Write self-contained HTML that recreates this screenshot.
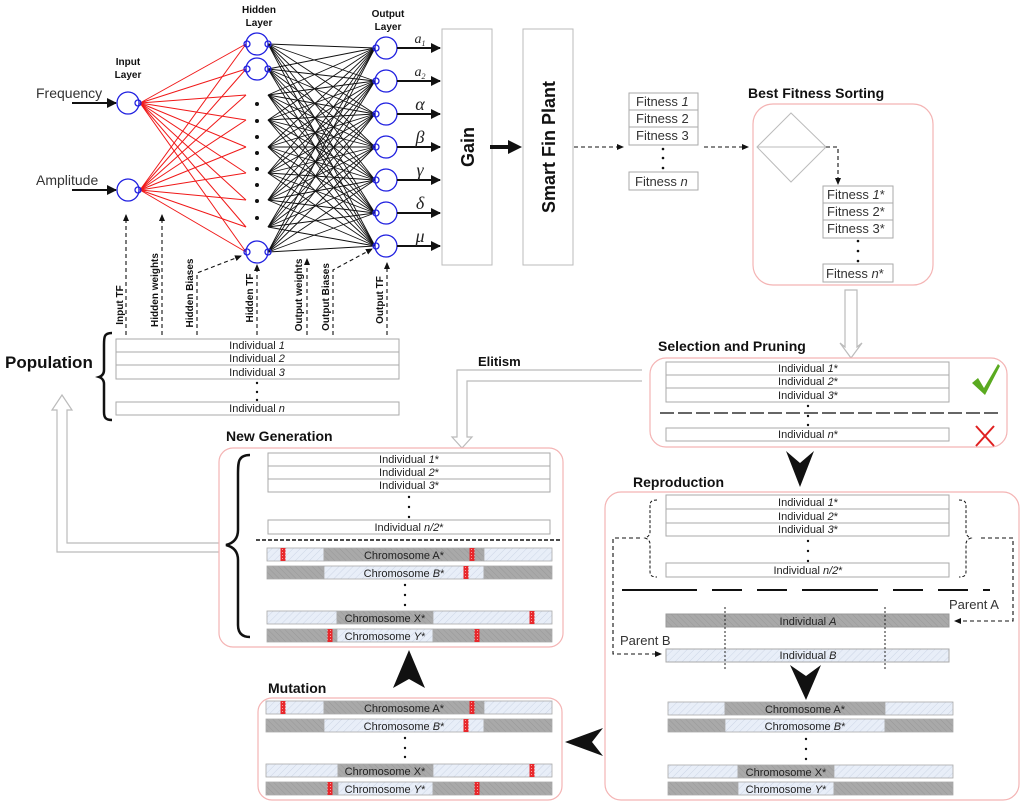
<!DOCTYPE html>
<html><head><meta charset="utf-8"><style>
html,body{margin:0;padding:0;background:#fff;}
svg{display:block;font-family:"Liberation Sans",sans-serif;}
.t{font-size:11px;text-anchor:middle;fill:#222}
.b{font-weight:bold;fill:#111}
.row{fill:#fff;stroke:#aaa;stroke-width:1}
.pk{fill:#fff;stroke:#f4b4b4;stroke-width:1.2}
.dash{stroke:#111;stroke-width:1.1;stroke-dasharray:4,3;fill:none}
.hol{fill:#fff;stroke:#bbb;stroke-width:1.2}
</style></head><body>
<svg id="s" width="1024" height="807" viewBox="0 0 1024 807" xmlns="http://www.w3.org/2000/svg">
<defs>
<pattern id="lh" width="5" height="5" patternUnits="userSpaceOnUse" patternTransform="rotate(45)"><rect width="5" height="5" fill="#e8eef8"/><line x1="0" y1="0" x2="0" y2="5" stroke="#cdd6e6" stroke-width="1"/></pattern>
<pattern id="dh" width="4" height="4" patternUnits="userSpaceOnUse" patternTransform="rotate(-45)"><rect width="4" height="4" fill="#a9a9a9"/><line x1="0" y1="0" x2="0" y2="4" stroke="#989898" stroke-width="1"/></pattern>
<pattern id="rh" width="3" height="3" patternUnits="userSpaceOnUse"><rect width="3" height="3" fill="#e8282c"/><rect width="1" height="1" fill="#f7a0a0"/></pattern>
<marker id="ah" markerWidth="8" markerHeight="8" refX="6" refY="3" orient="auto" markerUnits="userSpaceOnUse"><path d="M0,0 L7,3 L0,6 Z" fill="#111"/></marker>
<marker id="ab" markerWidth="12" markerHeight="10" refX="9" refY="5" orient="auto" markerUnits="userSpaceOnUse"><path d="M0,0 L10,5 L0,10 Z" fill="#111"/></marker>
</defs>

<g id="lines"></g>

<text x="128" y="65" class="t b" style="font-size:10px">Input</text>
<text x="128" y="78" class="t b" style="font-size:10px">Layer</text>
<text x="259" y="13" class="t b" style="font-size:10px">Hidden</text>
<text x="259" y="26" class="t b" style="font-size:10px">Layer</text>
<text x="388" y="17" class="t b" style="font-size:10px">Output</text>
<text x="388" y="30" class="t b" style="font-size:10px">Layer</text>
<text x="36" y="98" style="font-size:14px;fill:#333">Frequency</text>
<text x="36" y="185" style="font-size:14px;fill:#333">Amplitude</text>
<line x1="72" y1="103" x2="116" y2="103" stroke="#111" stroke-width="2" marker-end="url(#ab)"/>
<line x1="72" y1="190" x2="116" y2="190" stroke="#111" stroke-width="2" marker-end="url(#ab)"/>
<g fill="none" stroke="#2020e0" stroke-width="1.3">
<circle cx="128" cy="103" r="11"/><circle cx="128" cy="190" r="11"/>
<circle cx="138" cy="103" r="3"/><circle cx="138" cy="190" r="3"/>
<circle cx="257" cy="44" r="11"/><circle cx="257" cy="69" r="11"/><circle cx="257" cy="252" r="11"/>
<circle cx="247" cy="44" r="3"/><circle cx="247" cy="69" r="3"/><circle cx="247" cy="252" r="3"/>
<circle cx="268" cy="44" r="3"/><circle cx="268" cy="69" r="3"/><circle cx="268" cy="252" r="3"/>
<g id="outc"></g>
</g>
<g fill="#111"><circle cx="257" cy="104" r="2"/><circle cx="257" cy="121" r="2"/><circle cx="257" cy="137" r="2"/><circle cx="257" cy="153" r="2"/><circle cx="257" cy="169" r="2"/><circle cx="257" cy="185" r="2"/><circle cx="257" cy="201" r="2"/><circle cx="257" cy="218" r="2"/></g>
<g stroke="#111" stroke-width="2">
<line x1="397" y1="48" x2="440" y2="48" marker-end="url(#ab)"/>
<line x1="397" y1="81" x2="440" y2="81" marker-end="url(#ab)"/>
<line x1="397" y1="114" x2="440" y2="114" marker-end="url(#ab)"/>
<line x1="397" y1="147" x2="440" y2="147" marker-end="url(#ab)"/>
<line x1="397" y1="180" x2="440" y2="180" marker-end="url(#ab)"/>
<line x1="397" y1="213" x2="440" y2="213" marker-end="url(#ab)"/>
<line x1="397" y1="246" x2="440" y2="246" marker-end="url(#ab)"/>
</g>
<g style="font-family:'Liberation Serif',serif;font-style:italic;fill:#222" text-anchor="middle">
<text x="420" y="43" style="font-size:14px">a<tspan font-size="8" dy="3">1</tspan></text>
<text x="420" y="76" style="font-size:14px">a<tspan font-size="8" dy="3">2</tspan></text>
<text x="420" y="110" style="font-size:18px">α</text>
<text x="420" y="143" style="font-size:18px">β</text>
<text x="420" y="176" style="font-size:18px">γ</text>
<text x="420" y="209" style="font-size:18px">δ</text>
<text x="420" y="242" style="font-size:18px">μ</text>
</g>
<g class="dash">
<line x1="126" y1="335" x2="126" y2="215" marker-end="url(#ah)"/>
<line x1="162" y1="335" x2="162" y2="215" marker-end="url(#ah)"/>
<polyline points="197,335 197,273 241,256" marker-end="url(#ah)"/>
<line x1="257" y1="335" x2="257" y2="265" marker-end="url(#ah)"/>
<line x1="307" y1="335" x2="307" y2="259" marker-end="url(#ah)"/>
<polyline points="333,335 333,270 372,249" marker-end="url(#ah)"/>
<line x1="387" y1="335" x2="387" y2="263" marker-end="url(#ah)"/>
</g>
<g class="b" style="font-size:10px">
<text transform="translate(123,305) rotate(-90)" text-anchor="middle">Input TF</text>
<text transform="translate(158,290) rotate(-90)" text-anchor="middle">Hidden weights</text>
<text transform="translate(193,293) rotate(-90)" text-anchor="middle">Hidden Biases</text>
<text transform="translate(253,298) rotate(-90)" text-anchor="middle">Hidden TF</text>
<text transform="translate(302,295) rotate(-90)" text-anchor="middle">Output weights</text>
<text transform="translate(329,297) rotate(-90)" text-anchor="middle">Output Biases</text>
<text transform="translate(383,300) rotate(-90)" text-anchor="middle">Output TF</text>
</g>

<rect x="442" y="29" width="50" height="236" fill="#fff" stroke="#bbb"/>
<rect x="523" y="29" width="50" height="236" fill="#fff" stroke="#bbb"/>
<text transform="translate(474,147) rotate(-90)" class="t b" style="font-size:18px">Gain</text>
<text transform="translate(555,147) rotate(-90)" class="t b" style="font-size:18px">Smart Fin Plant</text>
<path d="M490,145 L508,145 L508,140 L522,147 L508,154 L508,149 L490,149 Z" fill="#111"/>
<line x1="574" y1="147" x2="623" y2="147" class="dash" marker-end="url(#ah)"/>
<line x1="704" y1="147" x2="748" y2="147" class="dash" marker-end="url(#ah)"/>
<g style="font-size:13px;fill:#333">
<rect x="629" y="93" width="69" height="17" class="row"/><rect x="629" y="110" width="69" height="17" class="row"/><rect x="629" y="127" width="69" height="18" class="row"/><rect x="629" y="172" width="69" height="18" class="row"/>
<text x="636" y="106">Fitness <tspan font-style="italic">1</tspan></text>
<text x="636" y="123">Fitness 2</text>
<text x="636" y="140">Fitness 3</text>
<text x="635" y="186">Fitness <tspan font-style="italic">n</tspan></text>
</g>
<g fill="#111"><circle cx="663" cy="149" r="1.3"/><circle cx="663" cy="158" r="1.3"/><circle cx="663" cy="168" r="1.3"/></g>

<text x="748" y="98" class="b" style="font-size:14px">Best Fitness Sorting</text>
<rect x="753" y="104" width="180" height="181" rx="20" class="pk"/>
<path d="M757,147 L791,113 L826,147 L791,182 Z M757,147 L826,147" fill="none" stroke="#bbb"/>
<polyline points="826,147 838,147 838,184" class="dash" marker-end="url(#ah)"/>
<g style="font-size:13px;fill:#333">
<rect x="823" y="186" width="70" height="17" class="row"/><rect x="823" y="203" width="70" height="17" class="row"/><rect x="823" y="220" width="70" height="18" class="row"/><rect x="823" y="264" width="70" height="18" class="row"/>
<text x="827" y="199">Fitness <tspan font-style="italic">1</tspan>*</text>
<text x="827" y="216">Fitness 2*</text>
<text x="827" y="233">Fitness 3*</text>
<text x="826" y="278">Fitness <tspan font-style="italic">n</tspan>*</text>
</g>
<g fill="#111"><circle cx="858" cy="241" r="1.3"/><circle cx="858" cy="251" r="1.3"/><circle cx="858" cy="261" r="1.3"/></g>
<path d="M845,290 L857,290 L857,347 L862,343 L851,358 L840,343 L845,347 Z" class="hol"/>

<text x="5" y="368" class="b" style="font-size:17px">Population</text>
<path d="M112,333 C104,333 104,337 104,345 L104,370 C104,374 102,376 99,377 C102,378 104,380 104,384 L104,412 C104,418 106,420 112,420" fill="none" stroke="#111" stroke-width="2.5"/>
<g class="t">
<rect x="116" y="339" width="283" height="13" class="row"/><rect x="116" y="352" width="283" height="13" class="row"/><rect x="116" y="365" width="283" height="14" class="row"/><rect x="116" y="402" width="283" height="13" class="row"/>
<text x="257" y="349">Individual <tspan font-style="italic">1</tspan></text>
<text x="257" y="362">Individual <tspan font-style="italic">2</tspan></text>
<text x="257" y="376">Individual <tspan font-style="italic">3</tspan></text>
<text x="257" y="412">Individual <tspan font-style="italic">n</tspan></text>
</g>
<g fill="#111"><circle cx="257" cy="383" r="1.2"/><circle cx="257" cy="392" r="1.2"/><circle cx="257" cy="400" r="1.2"/></g>
<path d="M220,543 L67,543 L67,410 L72,410 L62,395 L52,410 L57,410 L57,552 L220,552" fill="none" stroke="#bbb" stroke-width="1.2"/>

<text x="658" y="351" class="b" style="font-size:14px">Selection and Pruning</text>
<text x="478" y="366" class="b" style="font-size:13px">Elitism</text>
<path d="M642,370 L457,370 L457,437 L452,437 L462,448 L472,437 L467,437 L467,381 L642,381" fill="none" stroke="#bbb" stroke-width="1.2"/>
<rect x="650" y="358" width="357" height="89" rx="16" class="pk"/>
<g class="t">
<rect x="666" y="362" width="283" height="13" class="row"/><rect x="666" y="375" width="283" height="13" class="row"/><rect x="666" y="388" width="283" height="14" class="row"/><rect x="666" y="428" width="283" height="13" class="row"/>
<text x="808" y="372">Individual <tspan font-style="italic">1</tspan>*</text>
<text x="808" y="385">Individual <tspan font-style="italic">2</tspan>*</text>
<text x="808" y="399">Individual <tspan font-style="italic">3</tspan>*</text>
<text x="808" y="438">Individual <tspan font-style="italic">n</tspan>*</text>
</g>
<line x1="660" y1="413" x2="1000" y2="413" stroke="#666" stroke-width="2" stroke-dasharray="14,4"/>
<g fill="#111"><circle cx="808" cy="406" r="1.2"/><circle cx="808" cy="416" r="1.2"/><circle cx="808" cy="425" r="1.2"/></g>
<path d="M972,383 L978,378 L984,388 L998,364 L1000,366 L985,395 Z" fill="#5aaa20"/>
<path d="M976,426 L994,446 M994,426 L976,446" stroke="#e02020" stroke-width="2"/>
<path d="M786,451 L800,463 L814,451 L800,487 Z" fill="#111"/>

<text x="226" y="441" class="b" style="font-size:14px">New Generation</text>
<rect x="219" y="448" width="344" height="199" rx="14" class="pk"/>
<path d="M250,455 C238,455 238,462 238,475 L238,530 C238,538 234,543 226,545 C234,547 238,552 238,560 L238,625 C238,633 242,637 250,637" fill="none" stroke="#111" stroke-width="2.5"/>
<g class="t">
<rect x="268" y="453" width="282" height="13" class="row"/><rect x="268" y="466" width="282" height="13" class="row"/><rect x="268" y="479" width="282" height="13" class="row"/><rect x="268" y="520" width="282" height="14" class="row"/>
<text x="409" y="463">Individual <tspan font-style="italic">1</tspan>*</text>
<text x="409" y="476">Individual <tspan font-style="italic">2</tspan>*</text>
<text x="409" y="489">Individual <tspan font-style="italic">3</tspan>*</text>
<text x="409" y="531">Individual <tspan font-style="italic">n/2</tspan>*</text>
</g>
<g fill="#111"><circle cx="409" cy="497" r="1.2"/><circle cx="409" cy="507" r="1.2"/><circle cx="409" cy="517" r="1.2"/></g>
<line x1="256" y1="540" x2="560" y2="540" stroke="#111" stroke-width="1.5" stroke-dasharray="4,2"/>
<path d="M409,650 L425,688 L409,679 L393,688 Z" fill="#111"/>

<text x="268" y="693" class="b" style="font-size:14px">Mutation</text>
<rect x="258" y="698" width="304" height="102" rx="14" class="pk"/>
<path d="M565,742 L603,728 L592,742 L603,756 Z" fill="#111"/>

<text x="633" y="487" class="b" style="font-size:14px">Reproduction</text>
<rect x="605" y="492" width="414" height="308" rx="16" class="pk"/>
<g class="t">
<rect x="666" y="495" width="283" height="14" class="row"/><rect x="666" y="509" width="283" height="14" class="row"/><rect x="666" y="523" width="283" height="13" class="row"/><rect x="666" y="563" width="283" height="14" class="row"/>
<text x="808" y="506">Individual <tspan font-style="italic">1</tspan>*</text>
<text x="808" y="520">Individual <tspan font-style="italic">2</tspan>*</text>
<text x="808" y="533">Individual <tspan font-style="italic">3</tspan>*</text>
<text x="808" y="574">Individual <tspan font-style="italic">n/2</tspan>*</text>
</g>
<g fill="#111"><circle cx="808" cy="541" r="1.2"/><circle cx="808" cy="551" r="1.2"/><circle cx="808" cy="561" r="1.2"/></g>
<path d="M657,500 C651,500 650,502 650,506 L650,532 C650,535 648,537 645,538 C648,539 650,541 650,544 L650,571 C650,575 651,577 657,577" fill="none" stroke="#111" stroke-dasharray="3,2"/>
<path d="M959,500 C965,500 966,502 966,506 L966,532 C966,535 968,537 971,538 C968,539 966,541 966,544 L966,571 C966,575 965,577 959,577" fill="none" stroke="#111" stroke-dasharray="3,2"/>
<path d="M622,590 H697 M712,590 H742 M757,590 H787 M802,590 H878 M893,590 H923 M938,590 H968 M983,590 H990" stroke="#111" stroke-width="2"/>
<polyline points="640,538 613,538 613,654 661,654" class="dash" marker-end="url(#ah)"/>
<polyline points="981,538 1013,538 1013,621 955,621" class="dash" marker-end="url(#ah)"/>
<text x="949" y="609" style="font-size:13px;fill:#333">Parent A</text>
<text x="620" y="645" style="font-size:13px;fill:#333">Parent B</text>
<rect x="666" y="614" width="283" height="13" fill="url(#dh)" stroke="#999"/>
<rect x="666" y="649" width="283" height="13" fill="url(#lh)" stroke="#aaa"/>
<text x="808" y="625" class="t">Individual <tspan font-style="italic">A</tspan></text>
<text x="808" y="659" class="t">Individual <tspan font-style="italic">B</tspan></text>
<line x1="725" y1="607" x2="725" y2="669" stroke="#222" stroke-dasharray="2,2"/>
<line x1="885" y1="607" x2="885" y2="669" stroke="#222" stroke-dasharray="2,2"/>
<path d="M790,665 L806,676 L821,665 L806,700 Z" fill="#111"/>

<g id="chroms"></g>
<g fill="#111"><circle cx="405" cy="585" r="1.2"/><circle cx="405" cy="595" r="1.2"/><circle cx="405" cy="605" r="1.2"/>
<circle cx="405" cy="738" r="1.2"/><circle cx="405" cy="748" r="1.2"/><circle cx="405" cy="757" r="1.2"/>
<circle cx="806" cy="739" r="1.2"/><circle cx="806" cy="749" r="1.2"/><circle cx="806" cy="759" r="1.2"/></g>
<g class="t" id="ctext">
<text x="404" y="559">Chromosome A*</text><text x="404" y="577">Chromosome <tspan font-style="italic">B</tspan>*</text>
<text x="385" y="622">Chromosome X*</text><text x="385" y="640">Chromosome <tspan font-style="italic">Y</tspan>*</text>
<text x="404" y="712">Chromosome A*</text><text x="404" y="730">Chromosome <tspan font-style="italic">B</tspan>*</text>
<text x="385" y="775">Chromosome X*</text><text x="385" y="793">Chromosome <tspan font-style="italic">Y</tspan>*</text>
<text x="805" y="713">Chromosome A*</text><text x="805" y="730">Chromosome <tspan font-style="italic">B</tspan>*</text>
<text x="786" y="776">Chromosome X*</text><text x="786" y="793">Chromosome <tspan font-style="italic">Y</tspan>*</text>
</g>
</svg>
<script>
(function(){
var NS="http://www.w3.org/2000/svg";
function el(p,n,a){var e=document.createElementNS(NS,n);for(var k in a)e.setAttribute(k,a[k]);p.appendChild(e);return e;}
var L=document.getElementById('lines');
var hy=[44,69,95,120,147,173,200,227,252];
var oy=[48,81,114,147,180,213,246];
[103,190].forEach(function(y){hy.forEach(function(h){el(L,'line',{x1:140,y1:y,x2:246,y2:h,stroke:'#f01818','stroke-width':1});});});
hy.forEach(function(h){oy.forEach(function(o){el(L,'line',{x1:268,y1:h,x2:375,y2:o,stroke:'#111','stroke-width':0.9});});});
var oc=document.getElementById('outc');
oy.forEach(function(o){el(oc,'circle',{cx:386,cy:o,r:11});el(oc,'circle',{cx:376,cy:o,r:3});});
var C=document.getElementById('chroms');
function bar(y,segs,reds){
 for(var i=0;i<segs.length;i++){var s=segs[i];el(C,'rect',{x:s[0],y:y,width:s[1]-s[0],height:13,fill:s[2]?'url(#dh)':'url(#lh)',stroke:'#aaa','stroke-width':0.8});}
 (reds||[]).forEach(function(r){el(C,'rect',{x:r-2.5,y:y,width:5,height:13,fill:'url(#rh)'});});
}
function group(x1,x2,a,b,c,d,ys,red){
 bar(ys[0],[[x1,a,0],[a,b,1],[b,x2,0]],red?[283,472]:[]);
 bar(ys[1],[[x1,a,1],[a,b,0],[b,x2,1]],red?[466]:[]);
 bar(ys[2],[[x1,c,0],[c,d,1],[d,x2,0]],red?[532]:[]);
 bar(ys[3],[[x1,c,1],[c,d,0],[d,x2,1]],red?[330,477]:[]);
}
group(267,552,324,484,337,433,[548,566,611,629],true);
group(266,552,324,484,338,433,[701,719,764,782],true);
group(668,953,725,885,738,834,[702,719,765,782],false);
})();
</script>
</body></html>
